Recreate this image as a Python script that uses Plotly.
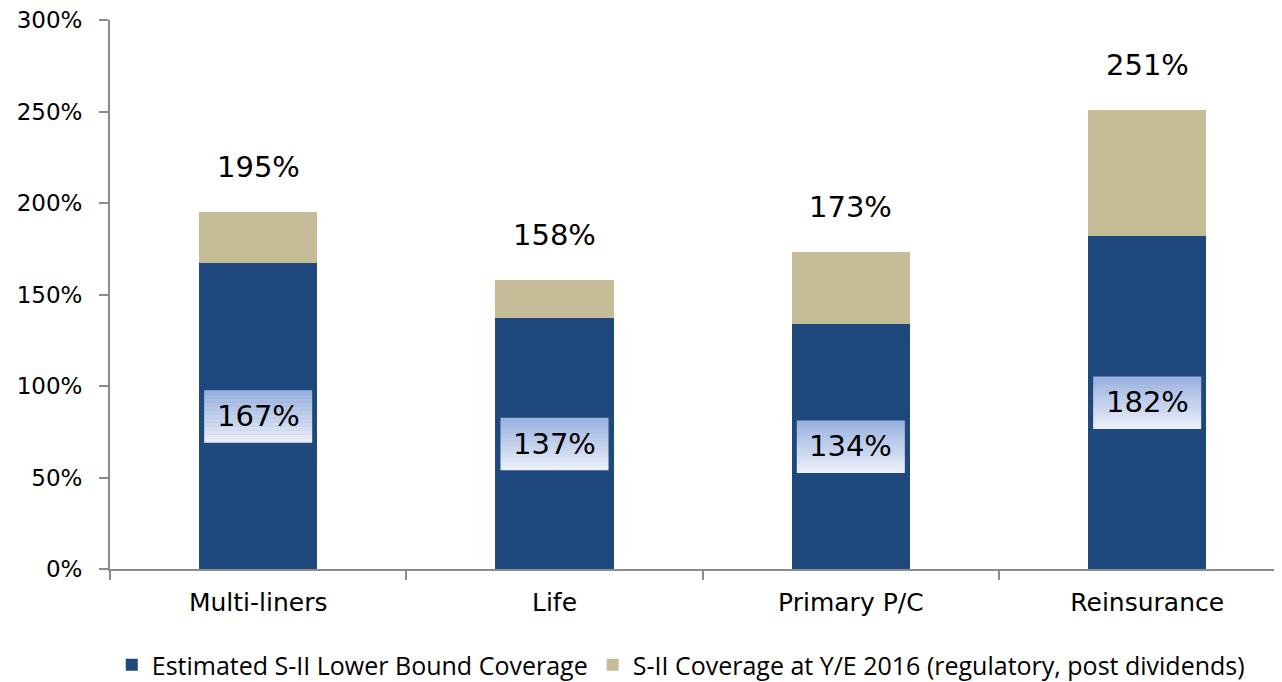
import plotly.graph_objects as go

categories = ["Multi-liners", "Life", "Primary P/C", "Reinsurance"]
lower_bound = [167, 137, 134, 182]
total_coverage = [195, 158, 173, 251]
extra = [t - l for t, l in zip(total_coverage, lower_bound)]
y_ticks = [0, 50, 100, 150, 200, 250, 300]
y_tick_labels = [f"{v}%" for v in y_ticks]

DARK = "#1F497D"
TAN = "#C4BD97"
AXIS = "#8C8C8C"
FONT = "DejaVu Sans"

fig = go.Figure()
fig.add_trace(go.Bar(x=categories, y=lower_bound, name="Estimated S-II Lower Bound Coverage",
                     marker=dict(color=DARK, line=dict(width=0)), width=0.4))
fig.add_trace(go.Bar(x=categories, y=extra, name="S-II Coverage at Y/E 2016 (regulatory, post dividends)",
                     marker=dict(color=TAN, line=dict(width=0)), width=0.4))

shapes = []
annotations = []
n_strips = 13
box_h = 52
box_w = 108
top_rgb = (155, 178, 224)
bot_rgb = (232, 237, 248)
for i, (lb, tot) in enumerate(zip(lower_bound, total_coverage)):
    mid = lb / 2
    for k in range(n_strips):
        f = k / (n_strips - 1)
        c = tuple(int(round(top_rgb[j] + (bot_rgb[j] - top_rgb[j]) * f)) for j in range(3))
        y1 = box_h / 2 - k * box_h / n_strips
        y0 = y1 - box_h / n_strips - 0.6
        shapes.append(dict(type="rect", xref="x", yref="y", xsizemode="pixel", ysizemode="pixel",
                           xanchor=i, yanchor=mid, x0=-box_w / 2, x1=box_w / 2, y0=y0, y1=y1,
                           fillcolor=f"rgb{c}", line=dict(width=0), layer="above"))
    annotations.append(dict(x=i, y=mid, text=f"{lb}%", showarrow=False, xref="x", yref="y",
                            font=dict(family=FONT, size=29, color="black")))
    annotations.append(dict(x=i, y=tot, text=f"{tot}%", showarrow=False, xref="x", yref="y",
                            yanchor="bottom", yshift=26,
                            font=dict(family=FONT, size=29, color="black")))

fig.update_layout(
    barmode="stack",
    width=1274, height=674,
    margin=dict(l=102, r=0, t=12, b=113, autoexpand=False),
    plot_bgcolor="white", paper_bgcolor="white",
    shapes=shapes, annotations=annotations,
    showlegend=True,
    legend=dict(orientation="h", x=0.487, xanchor="center", y=-0.175, yanchor="middle",
                font=dict(family="Open Sans", size=25, color="black"), traceorder="normal",
                itemwidth=30, tracegroupgap=0),
    xaxis=dict(type="category", range=[-0.5, 3.455], showline=True, linecolor=AXIS, linewidth=2,
               ticks="outside", ticklen=9, tickcolor=AXIS, tickwidth=2, tickson="boundaries",
               showgrid=False, zeroline=False, ticklabelstandoff=10, automargin=False,
               tickfont=dict(family=FONT, size=25, color="black")),
    yaxis=dict(range=[0, 300], tickvals=y_ticks, ticktext=y_tick_labels,
               showline=True, linecolor=AXIS, linewidth=2, ticks="outside", ticklen=9,
               tickcolor=AXIS, tickwidth=2, showgrid=False, zeroline=False,
               ticklabelstandoff=12, automargin=False, ticklabeloverflow="allow",
               tickfont=dict(family=FONT, size=23, color="black")),
)

fig.write_html("out.html")
